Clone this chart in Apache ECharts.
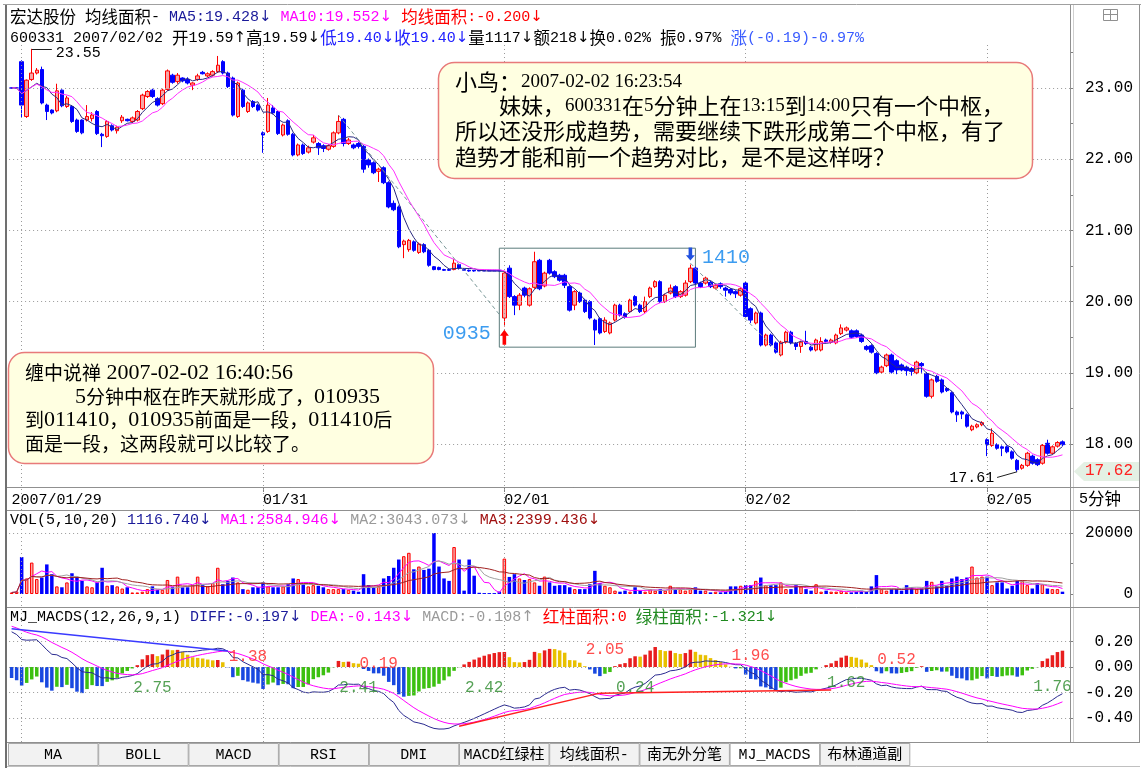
<!DOCTYPE html>
<html><head><meta charset="utf-8">
<script src="https://cdn.jsdelivr.net/npm/echarts@6/dist/echarts.min.js"></script>
<style>html,body{margin:0;padding:0;background:#fff}#c{width:1144px;height:771px}</style>
</head><body><div id="c"></div>
<script>
// ---------------- data ----------------
const dayNames = ['01/29','01/30','01/31','02/01','02/02','02/05'];
const dayBars = [2,48,48,48,48,17];
const dateLabels = {0:'2007/01/29',50:'01/31',98:'02/01',146:'02/02',194:'02/05'};
const dayStartIdx = [2,50,98,146,194];
const priceTicks = [18,19,20,21,22,23];
const priceMinorTicks = [18,18.5,19,19.5,20,20.5,21,21.5,22,22.5,23,23.5];
const lastPriceTag = [17.62];
const volTicks = [0,20000];
const macdTicks = [-0.4,-0.2,0,0.2];
// [open, close, low, high]
const candles = [
[23.00,23.00,22.99,23.01],[23.00,23.00,22.99,23.01],[23.37,22.76,22.59,23.39],[22.60,23.11,22.58,23.12],[23.12,23.21,23.10,23.55],
[23.21,23.25,23.19,23.28],[23.26,22.79,22.77,23.30],[22.76,22.67,22.55,22.78],[22.69,22.65,22.63,22.70],[22.68,22.96,22.66,23.06],
[22.97,22.75,22.73,22.98],[22.74,22.86,22.72,22.89],[22.74,22.53,22.51,22.76],[22.55,22.39,22.37,22.57],[22.55,22.37,22.35,22.56],
[22.55,22.60,22.53,22.76],[22.57,22.62,22.53,22.66],[22.67,22.36,22.34,22.69],[22.35,22.33,22.17,22.37],[22.32,22.53,22.30,22.55],
[22.47,22.41,22.39,22.49],[22.40,22.45,22.36,22.47],[22.54,22.59,22.51,22.62],[22.56,22.54,22.53,22.57],[22.53,22.58,22.51,22.60],
[22.55,22.67,22.53,22.69],[22.71,22.90,22.69,22.92],[22.88,22.95,22.86,22.97],[22.97,22.88,22.86,22.99],[22.85,22.76,22.74,22.87],
[22.78,22.97,22.76,22.99],[22.98,23.24,22.96,23.26],[23.18,23.08,23.06,23.20],[23.09,23.18,23.06,23.21],[23.14,23.10,23.08,23.15],
[23.12,23.07,23.05,23.15],[23.04,23.07,22.97,23.08],[23.12,23.17,23.10,23.20],[23.22,23.20,23.19,23.24],[23.17,23.20,23.15,23.22],
[23.18,23.23,23.16,23.25],[23.23,23.32,23.21,23.45],[23.37,23.21,23.19,23.39],[23.21,23.02,23.00,23.23],[23.14,22.62,22.60,23.16],
[22.60,23.07,22.58,23.09],[22.97,22.74,22.72,22.99],[22.67,22.79,22.65,22.81],[22.81,22.74,22.72,22.83],[22.76,22.69,22.67,22.78],
[22.37,22.34,22.09,22.39],[22.39,22.76,22.37,22.86],[22.72,22.65,22.63,22.76],[22.67,22.36,22.34,22.69],[22.34,22.48,22.32,22.50],
[22.54,22.35,22.33,22.56],[22.35,22.06,22.04,22.37],[22.06,22.20,22.04,22.22],[22.20,22.08,22.06,22.22],[22.10,22.16,22.08,22.19],
[22.24,22.30,22.22,22.34],[22.22,22.16,22.06,22.24],[22.19,22.15,22.10,22.21],[22.14,22.19,22.12,22.21],[22.18,22.37,22.16,22.39],
[22.37,22.53,22.35,22.62],[22.56,22.22,22.18,22.58],[22.22,22.27,22.20,22.30],[22.20,22.16,22.14,22.22],[22.22,22.18,22.15,22.24],
[22.18,21.86,21.81,22.20],[21.99,21.92,21.88,22.01],[21.95,21.81,21.79,21.97],[21.83,21.86,21.68,21.88],[21.88,21.67,21.65,21.90],
[21.67,21.33,21.31,21.69],[21.38,21.29,21.27,21.42],[21.33,20.77,20.75,21.35],[20.80,20.85,20.61,20.87],[20.73,20.86,20.70,20.88],
[20.84,20.72,20.70,20.86],[20.69,20.81,20.67,20.83],[20.80,20.70,20.68,20.82],[20.72,20.51,20.49,20.74],[20.49,20.45,20.44,20.50],
[20.48,20.45,20.44,20.49],[20.45,20.44,20.43,20.46],[20.45,20.44,20.43,20.46],[20.45,20.54,20.44,20.60],[20.52,20.47,20.45,20.53],
[20.45,20.44,20.43,20.46],[20.44,20.43,20.42,20.45],[20.44,20.43,20.42,20.44],[20.44,20.43,20.43,20.44],[20.44,20.43,20.43,20.44],
[20.44,20.43,20.43,20.44],[20.44,20.43,20.43,20.44],[20.44,20.43,20.43,20.44],[19.77,20.40,19.65,20.42],[20.47,20.07,20.05,20.51],
[20.07,19.95,19.81,20.09],[19.95,20.09,19.88,20.12],[20.19,20.09,20.06,20.21],[19.95,20.18,19.93,20.20],[20.20,20.56,20.18,20.70],
[20.58,20.18,20.16,20.60],[20.22,20.40,20.20,20.42],[20.58,20.40,20.38,20.60],[20.42,20.35,20.33,20.44],[20.37,20.30,20.28,20.39],
[20.37,20.23,20.19,20.39],[20.21,19.88,19.86,20.23],[19.95,20.14,19.88,20.16],[20.12,20.00,19.98,20.14],[20.02,19.86,19.84,20.04],
[20.00,19.77,19.75,20.02],[19.74,19.60,19.39,19.76],[19.76,19.56,19.54,19.78],[19.58,19.74,19.56,19.78],[19.56,19.70,19.54,19.72],
[19.74,19.95,19.72,19.97],[19.95,19.81,19.79,19.97],[19.83,19.78,19.76,19.85],[19.86,20.02,19.84,20.04],[20.07,19.95,19.93,20.09],
[19.95,19.86,19.84,19.97],[19.86,20.00,19.84,20.07],[20.07,20.19,20.05,20.21],[20.21,20.28,20.19,20.30],[20.28,20.00,19.98,20.30],
[20.00,20.09,19.98,20.11],[20.12,20.19,20.10,20.24],[20.21,20.07,20.05,20.23],[20.07,20.14,20.05,20.16],[20.09,20.26,20.07,20.30],
[20.28,20.47,20.26,20.52],[20.47,20.26,20.24,20.49],[20.26,20.21,20.19,20.28],[20.26,20.33,20.24,20.35],[20.27,20.21,20.19,20.29],
[20.19,20.23,20.17,20.25],[20.25,20.21,20.18,20.27],[20.19,20.16,20.07,20.21],[20.17,20.12,20.09,20.19],[20.14,20.11,20.05,20.16],
[20.09,20.18,20.07,20.20],[20.26,19.79,19.77,20.28],[19.90,19.74,19.70,19.92],[19.70,19.84,19.68,19.86],[19.84,19.39,19.37,19.86],
[19.39,19.53,19.37,19.55],[19.53,19.39,19.37,19.55],[19.42,19.29,19.27,19.44],[19.25,19.43,19.23,19.45],[19.43,19.57,19.41,19.59],
[19.57,19.42,19.40,19.59],[19.41,19.37,19.32,19.43],[19.37,19.43,19.28,19.45],[19.44,19.41,19.39,19.59],[19.36,19.32,19.30,19.38],
[19.32,19.46,19.30,19.48],[19.32,19.44,19.30,19.50],[19.46,19.44,19.42,19.48],[19.43,19.46,19.41,19.48],[19.42,19.53,19.40,19.55],
[19.55,19.63,19.53,19.68],[19.60,19.63,19.58,19.65],[19.59,19.50,19.48,19.61],[19.59,19.51,19.49,19.61],[19.53,19.44,19.42,19.55],
[19.37,19.33,19.31,19.39],[19.38,19.29,19.27,19.40],[19.27,19.00,18.98,19.29],[19.01,19.08,18.99,19.10],[19.10,19.25,19.08,19.27],
[19.25,19.01,18.99,19.27],[19.17,19.04,18.98,19.19],[19.11,19.04,19.02,19.13],[19.08,19.03,18.96,19.10],[19.06,19.02,18.96,19.08],
[19.00,19.15,18.98,19.17],[19.13,19.10,19.00,19.15],[18.99,18.67,18.65,19.01],[18.67,18.90,18.64,18.92],[18.95,18.88,18.86,18.97],
[18.90,18.73,18.71,18.92],[18.78,18.75,18.73,18.80],[18.72,18.45,18.43,18.74],[18.45,18.41,18.31,18.47],[18.45,18.42,18.35,18.47],
[18.41,18.25,18.23,18.43],[18.20,18.25,18.18,18.27],[18.24,18.27,18.22,18.29],[18.27,18.30,18.25,18.32],[18.06,17.99,17.83,18.08],
[17.98,18.15,17.96,18.22],[17.99,17.94,17.92,18.01],[17.96,17.94,17.83,17.98],[17.96,17.89,17.87,17.98],[17.89,17.80,17.78,17.91],
[17.77,17.64,17.61,17.79],[17.66,17.70,17.64,17.72],[17.70,17.87,17.68,17.89],[17.83,17.73,17.71,17.85],[17.78,17.71,17.69,17.80],
[17.73,17.98,17.71,18.00],[18.01,17.87,17.85,18.06],[17.87,17.96,17.85,17.98],[17.97,18.02,17.95,18.04],[18.03,17.99,17.97,18.05]
];
const volumes = [
500,800,12100,5100,10300,4900,5400,9700,6500,2500,
2200,3800,6800,5600,4300,2500,2200,3800,8600,2700,
2900,2500,1800,2200,500,500,750,1600,2500,1400,
1400,4600,2200,5700,2200,2200,2900,5700,2900,2500,
3600,8600,3200,4300,5400,3800,1600,1400,2200,2200,
3800,2500,2200,2200,2500,3200,5100,4900,3200,2500,
2900,2700,2200,1600,1600,1600,1600,1400,1100,750,
6500,2900,2200,2500,5100,5900,8600,11300,12400,13500,
8100,9000,7900,8300,20000,9000,5100,4300,15400,11300,
1100,11300,6000,400,300,300,300,800,11600,5600,
6500,5100,4600,4900,3800,2700,5700,3800,2700,2900,
2900,2200,1600,1600,1600,3200,7600,3600,2700,2200,
1100,760,1100,760,2200,1100,760,1600,1100,1600,
1100,2700,1600,1600,1100,1600,2200,1100,1100,540,
760,540,760,2500,2500,2700,2900,2900,4300,5400,
2900,2900,2900,3800,1600,1600,2900,2500,1600,1100,
3200,760,1100,760,760,1100,540,540,760,1100,
760,2500,6200,1600,1100,1600,1600,1100,2900,2200,
1600,1800,4300,4000,2700,4300,2700,5100,5700,4900,
5400,9000,5400,5700,5700,2900,3800,3800,1800,2700,
4300,4300,2900,1800,3600,3200,1800,1600,1600,760];
const macdSeed = {ema12:23.02, ema26:22.72, dea:0.33};
// area labels of MJ_MACDS: [text, barIndex, value, kind]
const macdAreaLabels = [
['2.75',28,-0.165,'g'],['1.38',47,0.078,'r'],['2.41',69,-0.165,'g'],['0.19',73,0.024,'r'],
['2.42',94,-0.165,'g'],['2.05',118,0.133,'r'],['0.24',124,-0.165,'g'],['1.96',147,0.086,'r'],
['1.62',166,-0.125,'g'],['0.52',176,0.055,'r'],['1.76',207,-0.157,'g']];

// ---------------- categories ----------------
function sessionTimes(){const t=[];for(let m=575;m<=690;m+=5)t.push(m);for(let m=785;m<=900;m+=5)t.push(m);
 return t.map(m=>String(Math.floor(m/60)).padStart(2,'0')+':'+String(m%60).padStart(2,'0'));}
const times = sessionTimes();
const cats = [];
dayNames.forEach((d,i)=>{const n=dayBars[i];const sl=i===0?times.slice(48-n):times.slice(0,n);sl.forEach(t=>cats.push(d+' '+t));});

// ---------------- derived indicators ----------------
const closes = candles.map(c=>c[1]);
function ma(arr,n){return arr.map((v,i)=>{const s=Math.max(0,i-n+1);let sum=0;for(let k=s;k<=i;k++)sum+=arr[k];return +(sum/(i-s+1)).toFixed(4);});}
const ma5 = ma(closes,5), ma10 = ma(closes,10);
const vma5 = ma(volumes,5), vma10 = ma(volumes,10), vma20 = ma(volumes,20);
const diff=[], dea=[], hist=[];
(function(){let e12=macdSeed.ema12,e26=macdSeed.ema26,d2=macdSeed.dea;
 closes.forEach(c=>{e12=(2*c+11*e12)/13;e26=(2*c+25*e26)/27;const d=e12-e26;d2=(2*d+8*d2)/10;
 diff.push(+d.toFixed(4));dea.push(+d2.toFixed(4));hist.push(+(2*(d-d2)).toFixed(4));});})();

// ---------------- styles ----------------
const MONO = '"Liberation Mono","Noto Sans CJK SC",monospace';
const CJK = '"Noto Sans CJK SC"';
const GRIDL = 9.1, GRIDR = 74;
const RED='#ff0000', BLUE='#0000ff', UPFILL='#f6a6a6';
const dotted = {type:[1,3], color:'#9a9a9a', width:1};

const volData = volumes.map((v,i)=>{const c=candles[i];const up=c[1]>=c[0];
 return {value:v, itemStyle: up?{color:UPFILL,borderColor:RED,borderWidth:1}:{color:BLUE}};});
const histData = hist.map((h,i)=>{const p=i?hist[i-1]:h;let col;
 if(h>=0) col = h>=p?'#e81e1e':'#e8c000'; else col = h<=p?'#1848e0':'#3cc010';
 return {value:h, itemStyle:{color:col}};});

function yAxisCommon(idx,min,max,labelVals,tickVals,fmt,color){
 return {type:'value',gridIndex:idx,position:'right',min,max,scale:true,
  axisLine:{show:false},splitLine:{show:false},
  axisTick:{show:!!tickVals,customValues:tickVals||[],length:4,lineStyle:{color:'#808080'}},
  axisLabel:{show:true,customValues:labelVals,formatter:fmt,align:'right',margin:63,color:color||'#000',fontSize:16,fontFamily:MONO}};
}
function xAxisCommon(idx,show){
 return {type:'category',gridIndex:idx,data:cats,boundaryGap:true,show:show,
  axisLine:{show:show,lineStyle:{color:'#808080'}},splitLine:{show:false},
  axisTick:{show:show,alignWithLabel:true,length:5,interval:(i)=>dateLabels[i]!==undefined && i>0,lineStyle:{color:'#808080'}},
  axisLabel:{show:show,interval:(i)=>dateLabels[i]!==undefined,formatter:(v,i)=>dateLabels[i]||'',align:'left',margin:6,color:'#000',fontSize:15,fontFamily:MONO}};
}

// ---------------- graphics (frame, texts) ----------------
function rt(x,y,parts,size){const rich={};let s='';const sz=size||15;let k=0;
 parts.forEach(p=>{const col=p[1]||'#000';
  p[0].replace(/([\u2190-\u21ff]+)|([\u3000-\u9fff\uff00-\uffef]+)|([^\u2190-\u21ff\u3000-\u9fff\uff00-\uffef]+)/g,(m,a,b,c)=>{
   const key='r'+(k++);
   if(a) rich[key]={fill:col,fontSize:sz,fontFamily:'"DejaVu Sans"'};
   else if(b) rich[key]={fill:col,fontSize:sz+1.5,fontFamily:CJK};
   else rich[key]={fill:col,fontSize:sz,fontFamily:'"Liberation Mono"'};
   s+='{'+key+'|'+m+'}';return m;});});
 return {type:'text',x,y,z:60,silent:true,style:{text:s,rich,fontSize:sz,fontFamily:MONO,verticalAlign:'middle',textVerticalAlign:'middle',align:'left',textAlign:'left'}};}
function mixed(x,y,str,cs,ls,color){const rich={c:{fill:color,fontSize:cs,fontFamily:CJK},l:{fill:color,fontSize:ls,fontFamily:'"Liberation Serif"'}};
 const s=str.replace(/([\u3000-\u9fff\uff00-\uffef]+)|([^\u3000-\u9fff\uff00-\uffef]+)/g,(m,a,b)=>a?'{c|'+a+'}':'{l|'+b+'}');
 return {type:'text',x,y,z:120,silent:true,style:{text:s,rich,verticalAlign:'middle',textVerticalAlign:'middle',align:'left',textAlign:'left'}};}
function ln(x1,y1,x2,y2,c,w){return {type:'line',z:40,silent:true,shape:{x1,y1,x2,y2},style:{stroke:c||'#808080',lineWidth:w||1}};}

const g = [];
g.push(ln(3,4.5,1141,4.5,'#a0a0a0',1));
g.push(ln(6,5,6,768,'#707070',2));
g.push(ln(1139.5,5,1139.5,742,'#909090',1));
g.push(ln(1070.5,5,1070.5,742,'#909090',1));
g.push(ln(1073.5,5,1073.5,742,'#d0d0d0',1));
[487.5,510.5,607.5,742.5].forEach(y=>g.push(ln(7,y,1140,y,'#909090',1)));
g.push(ln(7,766.5,1140,766.5,'#c0c0c0',1));
g.push({type:'rect',z:40,silent:true,shape:{x:1103.5,y:9.5,width:14,height:11},style:{fill:'#fff',stroke:'#909090',lineWidth:1}});
g.push(ln(1103.5,14.5,1117.5,14.5,'#909090',1));g.push(ln(1110.5,9.5,1110.5,20.5,'#909090',1));
// background of the last-price tag on the right axis
g.push({type:'polygon',z:-1,silent:true,shape:{points:[[1074,471.5],[1084,462],[1139,462],[1139,481],[1084,481]]},style:{fill:'#e4f0e4'}});
g.push(rt(10,17,[['宏达股份 均线面积- ','#000'],['MA5:19.428↓','#1a1a9a'],[' ','#000'],['MA10:19.552↓','#ff00ff'],[' ','#000'],['均线面积:-0.200↓','#ff0000']]));
g.push(rt(10,38,[['600331 2007/02/02 开19.59↑高19.59↓','#000'],['低19.40↓收19.40↓','#2020ff'],['量1117↓额218↓换0.02% 振0.97% ','#000'],['涨(-0.19)-0.97%','#3a5cff']]));
g.push(rt(10,520,[['VOL(5,10,20) ','#000'],['1116.740↓','#1a1a9a'],[' ','#000'],['MA1:2584.946↓','#ff00ff'],[' ','#000'],['MA2:3043.073↓','#9a9a9a'],[' ','#000'],['MA3:2399.436↓','#a01010']]));
g.push(rt(10,617,[['MJ_MACDS(12,26,9,1) ','#000'],['DIFF:-0.197↓','#1a1a9a'],[' ','#000'],['DEA:-0.143↓','#ff00ff'],[' ','#000'],['MACD:-0.108↑','#9a9a9a'],[' ','#000'],['红柱面积:0','#ff0000'],[' ','#000'],['绿柱面积:-1.321↓','#208a20']]));
g.push(rt(1079,499,[['5分钟','#000']],15));
const tabs=['MA','BOLL','MACD','RSI','DMI','MACD红绿柱','均线面积-','南无外分笔','MJ_MACDS','布林通道副'];
tabs.forEach((t,i)=>{const x=8+i*90.2;
 g.push({type:'rect',z:40,silent:true,shape:{x:x+0.5,y:743.5,width:89.5,height:22},style:{fill:t==='MJ_MACDS'?'#ffffff':'#f2f2f2',stroke:'#a8a8a8',lineWidth:1}});
 g.push({type:'text',z:60,silent:true,x:x+45,y:755,style:{text:t,fontSize:15,fontFamily:MONO,fill:'#000',align:'center',textAlign:'center',verticalAlign:'middle',textVerticalAlign:'middle'}});});
g.push({type:'rect',z:110,silent:true,shape:{x:438.5,y:62.5,width:594,height:116,r:16},style:{fill:'#ffffe1',stroke:'#e87a7a',lineWidth:1.5}});
g.push(mixed(455,82,'小鸟：2007-02-02 16:23:54',22,19,'#000'));
g.push(mixed(455,106,'　　妹妹，600331在5分钟上在13:15到14:00只有一个中枢，',22,19,'#000'));
g.push(mixed(455,131,'所以还没形成趋势，需要继续下跌形成第二个中枢，有了',22,19,'#000'));
g.push(mixed(455,157,'趋势才能和前一个趋势对比，是不是这样呀？',22,19,'#000'));
g.push({type:'rect',z:110,silent:true,shape:{x:8.5,y:352.5,width:425,height:111,r:16},style:{fill:'#ffffe1',stroke:'#e87a7a',lineWidth:1.5}});
g.push(mixed(25,373,'缠中说禅 2007-02-02 16:40:56',19,22,'#000'));
g.push(mixed(75,397,'5分钟中枢在昨天就形成了，010935',19,22,'#000'));
g.push(mixed(25,420,'到011410，010935前面是一段，011410后',19,22,'#000'));
g.push(mixed(25,444,'面是一段，这两段就可以比较了。',19,22,'#000'));

// ---------------- option ----------------
const option = {
 animation:false, backgroundColor:'#ffffff',
 grid:[
  {left:GRIDL,right:GRIDR,top:42,height:445,outerBoundsMode:'none'},
  {left:GRIDL,right:GRIDR,top:533,height:61,outerBoundsMode:'none'},
  {left:GRIDL,right:GRIDR,top:616,height:127.5,outerBoundsMode:'none'},
  {left:GRIDL,right:GRIDR,top:42,height:700,outerBoundsMode:'none'}],
 xAxis:[xAxisCommon(0,true),xAxisCommon(1,false),xAxisCommon(2,false),xAxisCommon(3,false)],
 yAxis:[
  yAxisCommon(0,17.396,23.646,priceTicks,priceMinorTicks,v=>v.toFixed(2)),
  yAxisCommon(1,0,20000,volTicks,[0,10000,20000],v=>String(v)),
  yAxisCommon(2,-0.6,0.4,macdTicks,macdTicks,v=>v.toFixed(2)),
  {type:'value',gridIndex:3,min:0,max:1,show:false},
  yAxisCommon(0,17.396,23.646,lastPriceTag,null,v=>v.toFixed(2),'#ff2020')],
 graphic:{elements:g},
 series:[
  {type:'line',xAxisIndex:3,yAxisIndex:3,data:cats.map(()=>null),silent:true,
   markLine:{silent:true,symbol:['none','none'],animation:false,label:{show:false},lineStyle:dotted,
    data:dayStartIdx.map(i=>({xAxis:cats[i]}))}},
  {type:'candlestick',name:'K',xAxisIndex:0,yAxisIndex:0,data:candles,barWidth:4,z:2,
   itemStyle:{color:UPFILL,color0:BLUE,borderColor:RED,borderColor0:BLUE,borderColorDoji:BLUE,borderWidth:1},
   markLine:{silent:true,symbol:['none','none'],animation:false,
    data:[
     ...priceTicks.map(v=>({yAxis:v,lineStyle:dotted,label:{show:false}})),
     [{coord:[cats[65],22.62],lineStyle:{type:[4,3],color:'#7a9898',width:1},label:{show:false}},{coord:[cats[97],19.82]}],
     [{coord:[cats[135],20.54],lineStyle:{type:[4,3],color:'#7a9898',width:1},label:{show:false}},{coord:[cats[153],19.25]}],
     [{coord:[cats[4],23.55],lineStyle:{type:'solid',color:'#202020',width:1},label:{show:true,position:'end',distance:2,offset:[2,4],formatter:'23.55',color:'#000',fontSize:15,fontFamily:MONO}},{coord:[cats[8],23.55]}],
     [{coord:[cats[196],17.53],lineStyle:{type:'solid',color:'#202020',width:1},label:{show:true,position:'start',distance:3,formatter:'17.61',color:'#000',fontSize:15,fontFamily:MONO}},{coord:[cats[200],17.61]}]
    ]},
   markArea:{silent:true,animation:false,itemStyle:{color:'rgba(0,0,0,0)',borderColor:'#5b7b7b',borderWidth:1},
    data:[[{coord:[cats[97],20.75]},{coord:[cats[136],19.36]}]]},
   markPoint:{silent:true,animation:false,
    data:[
     {coord:[cats[98],19.50],symbol:'path://M5 0L10 6L7 6L7 15L3 15L3 6L0 6Z',symbolSize:[9,15],itemStyle:{color:'#ff0000'},
      label:{show:true,position:'left',distance:9,offset:[0,-3],formatter:'0935',color:'#3c9cf0',fontSize:20,fontFamily:MONO}},
     {coord:[cats[135],20.67],symbol:'path://M3 0L7 0L7 9L10 9L5 15L0 9L3 9Z',symbolSize:[9,13],itemStyle:{color:'#2050e0'},
      label:{show:true,position:'right',distance:7,offset:[0,4],formatter:'1410',color:'#3c9cf0',fontSize:20,fontFamily:MONO}}
    ]}},
  {type:'line',name:'MA5',xAxisIndex:0,yAxisIndex:0,data:ma5,showSymbol:false,silent:true,z:3,lineStyle:{color:'#2a2a80',width:1}},
  {type:'line',name:'MA10',xAxisIndex:0,yAxisIndex:0,data:ma10,showSymbol:false,silent:true,z:3,lineStyle:{color:'#ff30ff',width:1}},
  {type:'bar',name:'VOL',xAxisIndex:1,yAxisIndex:1,data:volData,barWidth:3.5,silent:true,
   markLine:{silent:true,symbol:['none','none'],animation:false,label:{show:false},lineStyle:dotted,data:[{yAxis:20000}]}},
  {type:'line',xAxisIndex:1,yAxisIndex:1,data:vma5,showSymbol:false,silent:true,z:3,lineStyle:{color:'#ff00ff',width:1}},
  {type:'line',xAxisIndex:1,yAxisIndex:1,data:vma10,showSymbol:false,silent:true,z:3,lineStyle:{color:'#a0a0a0',width:1}},
  {type:'line',xAxisIndex:1,yAxisIndex:1,data:vma20,showSymbol:false,silent:true,z:3,lineStyle:{color:'#a02020',width:1}},
  {type:'bar',name:'MACD',xAxisIndex:2,yAxisIndex:2,data:histData,barWidth:3.5,silent:true,
   markLine:{silent:true,symbol:['none','none'],animation:false,label:{show:false},
    data:[
     ...macdTicks.map(v=>({yAxis:v,lineStyle:dotted})),
     [{coord:[cats[0],0.30],lineStyle:{type:'solid',color:'#3a3aff',width:1.5}},{coord:[cats[43],0.125]}],
     [{coord:[cats[89],-0.465],lineStyle:{type:'solid',color:'#ff2020',width:1.5}},{coord:[cats[117],-0.205]}],
     [{coord:[cats[117],-0.205],lineStyle:{type:'solid',color:'#ff2020',width:1.5}},{coord:[cats[163],-0.18]}]
    ]}},
  {type:'line',name:'DIFF',xAxisIndex:2,yAxisIndex:2,data:diff,showSymbol:false,silent:true,z:4,lineStyle:{color:'#2a2a90',width:1}},
  {type:'line',name:'DEA',xAxisIndex:2,yAxisIndex:2,data:dea,showSymbol:false,silent:true,z:4,lineStyle:{color:'#ff00ff',width:1}},
  {type:'scatter',xAxisIndex:2,yAxisIndex:2,symbolSize:0,silent:true,z:5,
   data:macdAreaLabels.map(a=>({value:[cats[a[1]],a[2]],label:{show:true,position:'inside',formatter:a[0],color:a[3]==='r'?'#ff2020':'#2a8a2a',fontSize:16,fontFamily:MONO}}))}
 ]
};
const chart = echarts.init(document.getElementById('c'));
chart.setOption(option);
</script></body></html>
